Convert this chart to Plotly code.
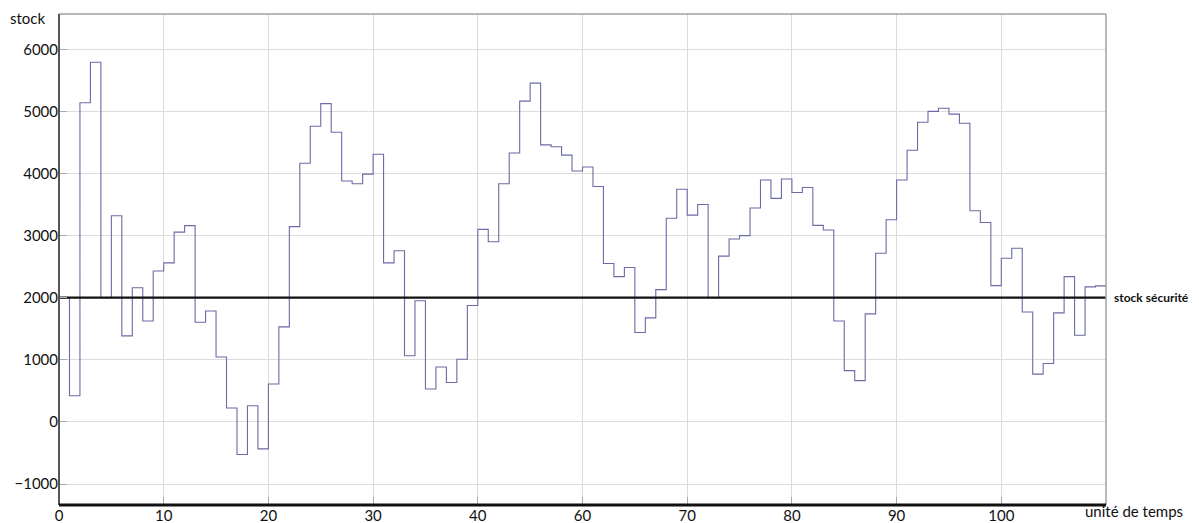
import plotly.graph_objects as go

# time positions (interval boundaries) and stock level for each unit interval
times = list(range(101))
stock = [2000, 420, 5140, 5790, 2000, 3320, 1385, 2160, 1625, 2430,
         2560, 3055, 3160, 1605, 1785, 1045, 225, -525, 260, -435,
         610, 1530, 3145, 4165, 4760, 5125, 4665, 3880, 3835, 3990,
         4310, 2560, 2755, 1065, 1950, 530, 885, 635, 1010, 1875,
         3100, 2900, 3835, 4330, 5165, 5455, 4460, 4430, 4295, 4040,
         4105, 3790, 2550, 2340, 2485, 1440, 1675, 2130, 3280, 3745,
         3330, 3500, 2000, 2670, 2945, 3000, 3445, 3895, 3600, 3910,
         3695, 3775, 3165, 3090, 1625, 825, 665, 1740, 2715, 3255,
         3895, 4375, 4825, 5000, 5050, 4955, 4810, 3400, 3210, 2195,
         2635, 2795, 1770, 770, 940, 1755, 2340, 1395, 2175, 2190]
safety_stock = 2000
x_tickvals = [0, 10, 20, 30, 40, 50, 60, 70, 80, 90]
x_ticktext = ["0", "10", "20", "30", "40", "60", "70", "80", "90", "100"]
y_tickvals = [-1000, 0, 1000, 2000, 3000, 4000, 5000, 6000]

FONT = "Lato"

fig = go.Figure()
fig.add_trace(go.Scatter(
    x=times, y=stock + [stock[-1]], mode="lines", line_shape="hv",
    line=dict(color="#6b6ba6", width=1.1), showlegend=False, hoverinfo="skip"))
fig.add_trace(go.Scatter(
    x=[times[0], times[-1]], y=[safety_stock, safety_stock], mode="lines",
    line=dict(color="#111111", width=2.2), showlegend=False, hoverinfo="skip"))

fig.update_layout(
    width=1191, height=515,
    margin=dict(l=51, r=93, t=6, b=18, autoexpand=False),
    paper_bgcolor="white", plot_bgcolor="white",
    font=dict(family=FONT, size=15, color="#111111"),
    xaxis=dict(range=[0, 100], tickvals=x_tickvals, ticktext=x_ticktext,
               showgrid=True, gridcolor="#dcdcdc", gridwidth=1,
               ticks="inside", ticklen=8, tickcolor="#aaaaaa",
               zeroline=False, showline=False, automargin=False,
               tickfont=dict(family=FONT, size=15, color="#111111")),
    yaxis=dict(range=[-1338, 6568], tickvals=y_tickvals,
               showgrid=True, gridcolor="#dcdcdc", gridwidth=1,
               ticks="inside", ticklen=8, tickcolor="#aaaaaa",
               zeroline=False, showline=False, automargin=False,
               tickfont=dict(family=FONT, size=15, color="#111111")),
    shapes=[
        dict(type="line", xref="paper", yref="paper", x0=0, x1=1, y0=1, y1=1,
             line=dict(color="#a0a0a0", width=1.5)),
        dict(type="line", xref="paper", yref="paper", x0=1, x1=1, y0=0, y1=1,
             line=dict(color="#a0a0a0", width=1.5)),
        dict(type="line", xref="paper", yref="paper", x0=0, x1=0, y0=0, y1=1,
             line=dict(color="#555555", width=2)),
        dict(type="line", xref="paper", yref="paper", x0=0, x1=1, y0=0, y1=0,
             line=dict(color="#111111", width=3)),
    ],
    annotations=[
        dict(text="stock", xref="paper", yref="paper", x=-0.0487, y=0.992,
             xanchor="left", yanchor="middle", showarrow=False,
             font=dict(family=FONT, size=15, color="#111111")),
        dict(text="<b>stock sécurité</b>", xref="paper", yref="y", x=1.0057, y=safety_stock,
             xanchor="left", yanchor="middle", showarrow=False,
             font=dict(family=FONT, size=12, color="#111111")),
        dict(text="unité de temps", xref="paper", yref="paper", x=0.978, y=-0.012,
             xanchor="left", yanchor="middle", showarrow=False,
             font=dict(family=FONT, size=15, color="#111111")),
    ],
)

fig.write_html("out.html")
